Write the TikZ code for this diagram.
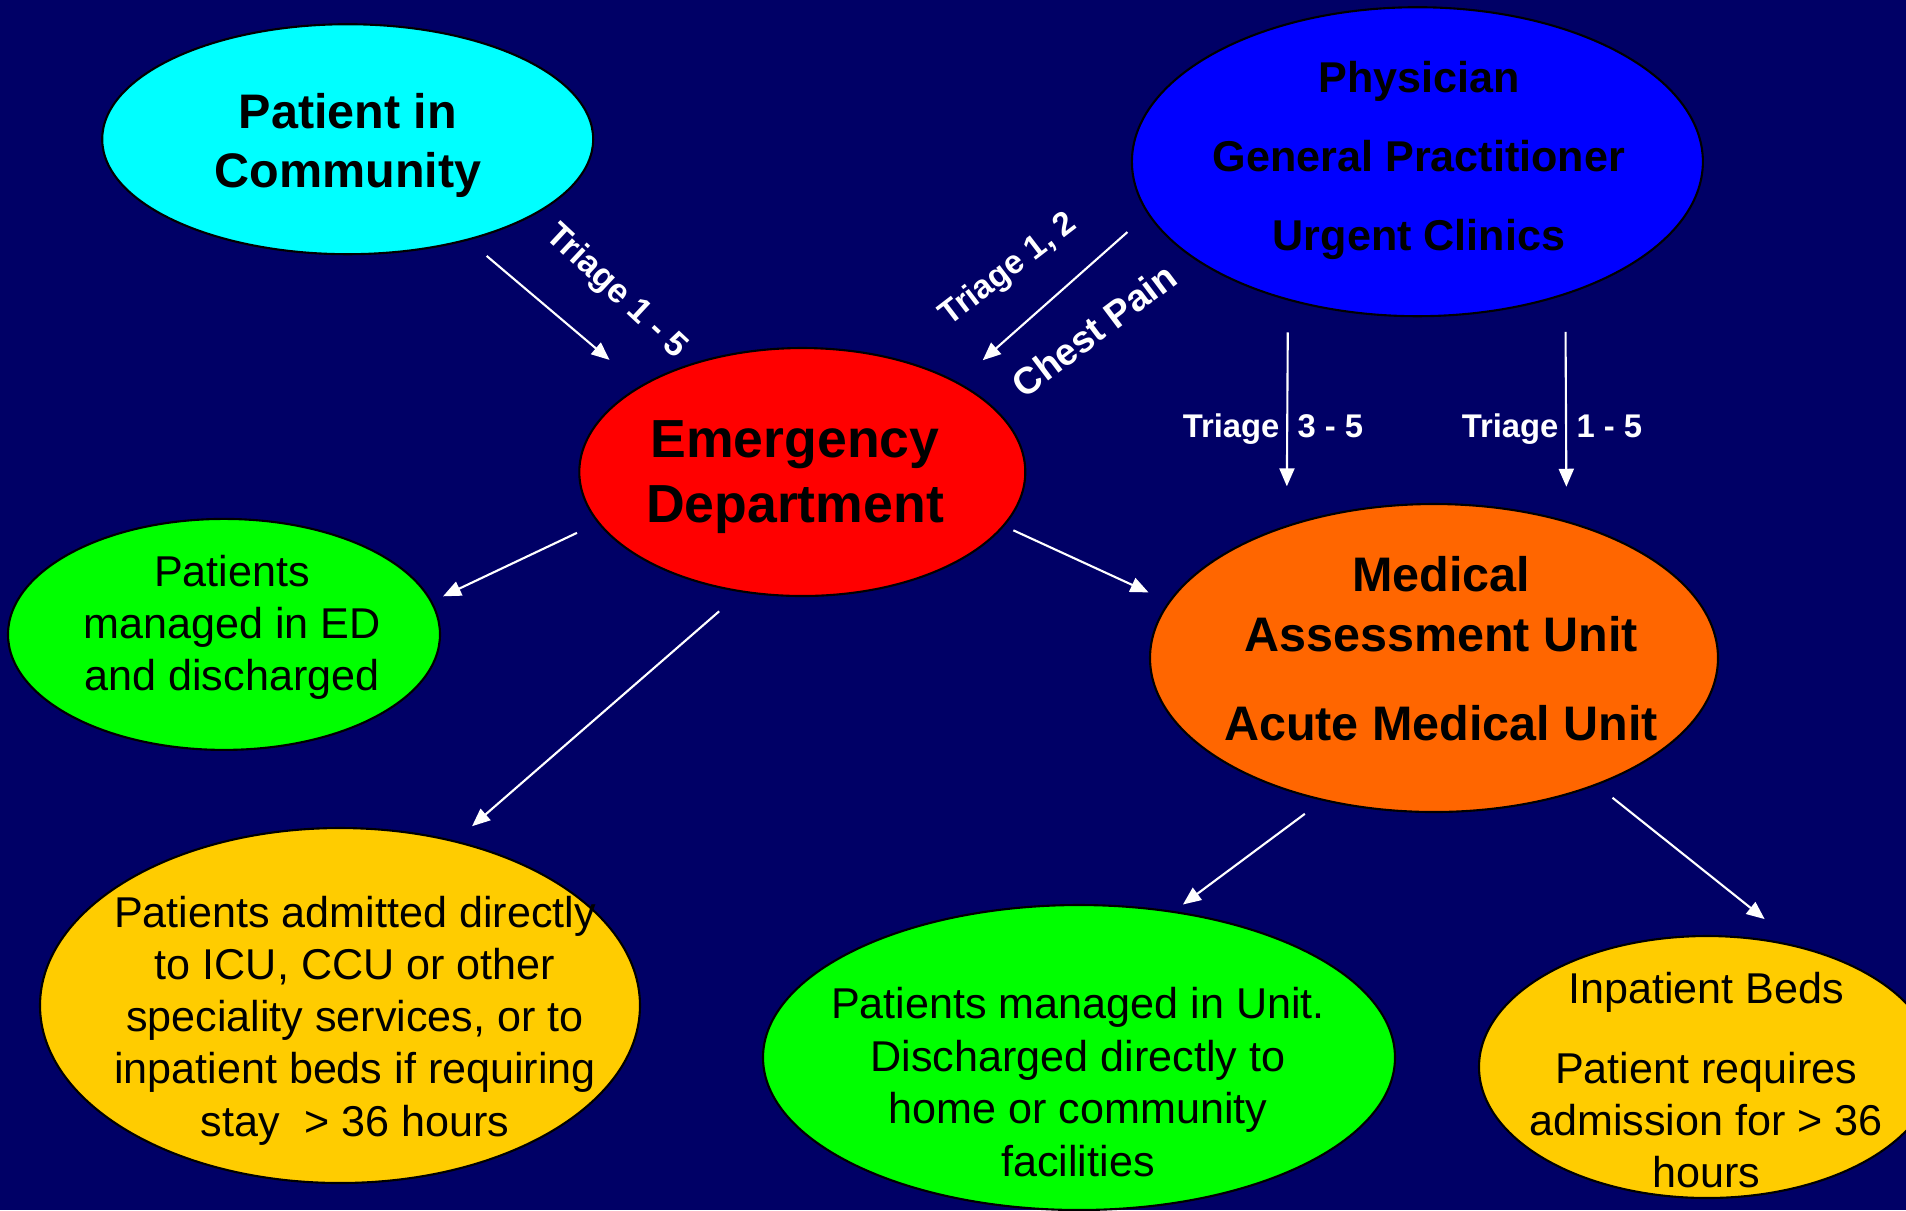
\documentclass[tikz,border=0pt]{standalone}
\usepackage{fontspec}
\setmainfont{Liberation Sans}
\usetikzlibrary{shapes.geometric, arrows.meta}

\definecolor{slidebg}{RGB}{0,0,102}
\definecolor{commcyan}{RGB}{0,255,255}
\definecolor{gpblue}{RGB}{0,0,255}
\definecolor{edred}{RGB}{255,0,0}
\definecolor{okgreen}{RGB}{0,255,0}
\definecolor{bedgold}{RGB}{255,204,0}
\definecolor{mauorange}{RGB}{255,102,0}

\begin{document}
\begin{tikzpicture}[
    x=0.1mm, y=-0.1mm,
    blob/.style={ellipse, draw=black, line width=0.6pt, inner sep=0pt},
    headline/.style={align=center, inner sep=0pt},
    plain/.style={align=center, inner sep=0pt, font=\fontsize{12.27}{14.8}\selectfont},
    tag/.style={text=white, inner sep=0pt, font=\fontsize{9.33}{11}\selectfont\bfseries},
    arrow/.style={draw=white, line width=0.6pt, -{Triangle[length=1.8mm, width=1.5mm]}}
]
    % Slide background
    \path [use as bounding box] (0,0) rectangle (1906,1210);
    \clip (0,0) rectangle (1906,1210);
    \fill [slidebg] (0,0) rectangle (1906,1210);

    % Referral sources
    \node [blob, fill=commcyan, minimum width=49.1mm, minimum height=23mm] (comm) at (347.7,139.2) {};
    \node [blob, fill=gpblue, minimum width=57.1mm, minimum height=30.9mm] (gp) at (1417.4,161.7) {};

    % Emergency department and its outcomes
    \node [blob, fill=edred, minimum width=44.6mm, minimum height=24.8mm] (ed) at (802.3,472) {};
    \node [blob, fill=okgreen, minimum width=43.2mm, minimum height=23.1mm] (edout) at (224,634.4) {};
    \node [blob, fill=bedgold, minimum width=60mm, minimum height=35.5mm] (direct) at (340,1005.5) {};

    % Assessment unit and its outcomes
    \node [blob, fill=mauorange, minimum width=56.8mm, minimum height=30.8mm] (mau) at (1434,658) {};
    \node [blob, fill=okgreen, minimum width=63.2mm, minimum height=30.5mm] (unit) at (1079,1057.5) {};
    \node [blob, fill=bedgold, minimum width=45.6mm, minimum height=26.2mm] (beds) at (1707,1067) {};

    % Texts
    \node [headline, font=\fontsize{13.8}{16.6}\selectfont\bfseries] (commtxt) at (348,145.3) {Patient in\\Community};
    \node [headline, font=\fontsize{12.27}{22.5}\selectfont\bfseries] (gptxt) at (1419,160.5) {Physician\\General Practitioner\\Urgent Clinics};
    \node [headline, font=\fontsize{15.25}{18.5}\selectfont\bfseries] (edtxt) at (795,477.2) {Emergency\\Department};
    \node [plain] (edouttxt) at (232,627.5) {Patients\\managed in ED\\and discharged};
    \node [plain] (directtxt) at (355,1020.8) {Patients admitted directly\\to ICU, CCU or other\\speciality services, or to\\inpatient beds if requiring\\stay\ \ > 36 hours};
    \node [headline, font=\fontsize{13.8}{17.07}\selectfont\bfseries] (mautxt) at (1441,648.5) {Medical\\Assessment Unit\\[2.83mm]Acute Medical Unit};
    \node [plain, font=\fontsize{12.27}{15}\selectfont] (unittxt) at (1078,1082) {Patients managed in Unit.\\Discharged directly to\\home or community\\facilities};
    \node [plain] (bedstxt) at (1706,1079.8) {Inpatient Beds\\[2.8mm]Patient requires\\admission for > 36\\hours};

    % Arrows
    \draw [arrow, shorten <=2.4mm, shorten >=4mm] (comm.-40) -- (ed.152.8);
    \draw [arrow, shorten <=2.7mm, shorten >=3.3mm] (gp.191.1) -- (ed.30.4);
    \draw [arrow, shorten <=3.2mm, shorten >=3.9mm] (gp.-133.5) -- (mau.138.2);
    \draw [arrow, shorten <=3.7mm, shorten >=3.4mm] (gp.-42.1) -- (mau.46.4);
    \draw [arrow, shorten <=2.3mm, shorten >=1.2mm] (ed.194.3) -- (edout.9.5);
    \draw [arrow, shorten <=1mm, shorten >=2.2mm] (ed.-15.8) -- (mau.168.9);
    \draw [arrow, shorten <=2.9mm, shorten >=2.2mm] (ed.-117.9) -- (direct.55.1);
    \draw [arrow, shorten <=2.2mm, shorten >=1.1mm] (mau.-128.9) -- (unit.57.7);
    \draw [arrow, shorten <=2mm, shorten >=4.3mm] (mau.-38.3) -- (beds.53);

    % Arrow labels
    \node [tag, rotate=-43, font=\fontsize{9.75}{11}\selectfont\bfseries] (t15a) at (616,292) {Triage 1 - 5};
    \node [tag, rotate=37.5, font=\fontsize{9.45}{11}\selectfont\bfseries] (t12) at (1009,270) {Triage 1, 2};
    \node [tag, rotate=37, font=\fontsize{10.7}{12}\selectfont\bfseries] (chest) at (1094,330) {Chest Pain};
    \node [tag, anchor=base] (t35) at (1273,437) {Triage\ \ 3 - 5};
    \node [tag, anchor=base] (t15b) at (1552,437) {Triage\ \ 1 - 5};
\end{tikzpicture}
\end{document}
